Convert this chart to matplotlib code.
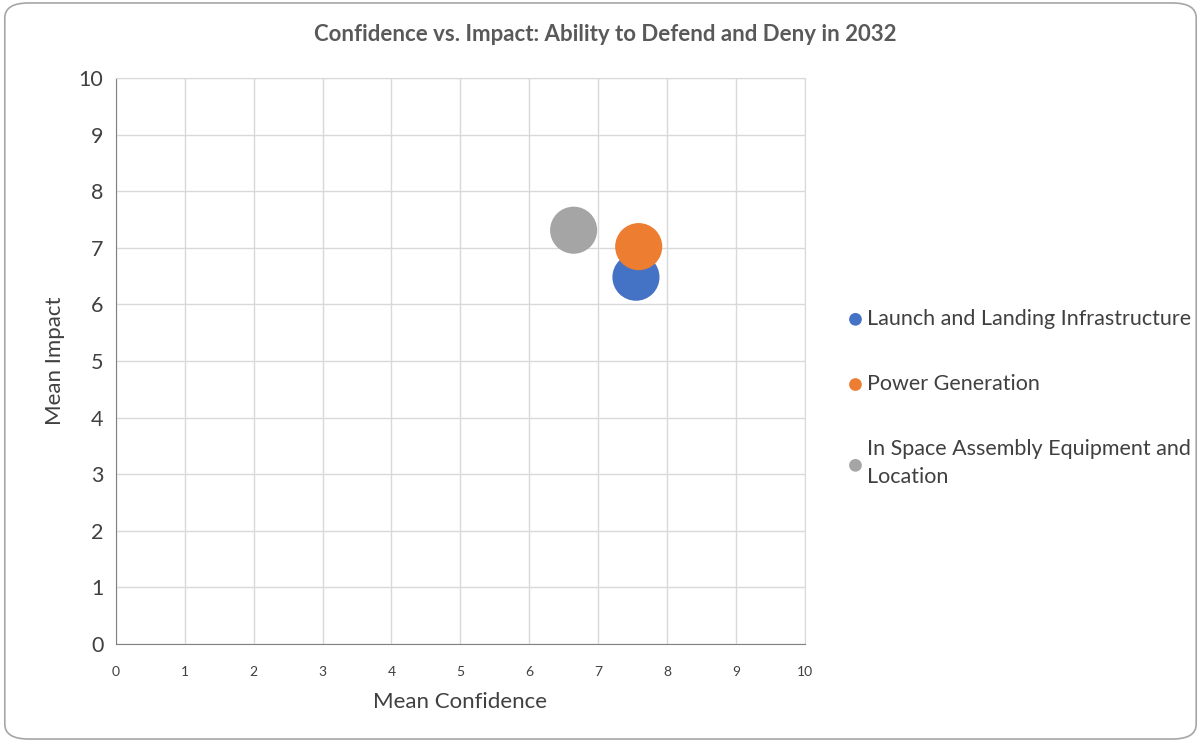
import matplotlib.pyplot as plt
from matplotlib.patches import FancyBboxPatch

labels = ['Launch and Landing Infrastructure', 'Power Generation',
          'In Space Assembly Equipment and\nLocation']
confidence = [7.55, 7.59, 6.645]
impact = [6.48, 7.02, 7.31]
colors = ['#4472c4', '#ed7d31', '#a5a5a5']

plt.rcParams['font.family'] = ['Lato', 'DejaVu Sans']

fig = plt.figure(figsize=(12.01, 7.42), dpi=100)
ax = fig.add_axes([0.0966, 0.132, 0.5734, 0.763])

# rounded frame round the whole chart
frame = FancyBboxPatch((0.004, 0.004), 0.992, 0.992, boxstyle='round,pad=0,rounding_size=0.02',
                       transform=fig.transFigure, fill=False, edgecolor='#a6a6a6', linewidth=1.2)
fig.patches.append(frame)

for x, y, c, l in zip(confidence, impact, colors, labels):
    ax.scatter(x, y, s=1150, color=c, label=l, zorder=3, edgecolors='none')

ax.set_xlim(0, 10)
ax.set_ylim(0, 10)
ax.set_xticks(range(11))
ax.set_yticks(range(11))
ax.grid(color='#d9d9d9', linewidth=1)
ax.set_axisbelow(True)
for s in ['top', 'right']:
    ax.spines[s].set_color('#d9d9d9')
for s in ['left', 'bottom']:
    ax.spines[s].set_color('#808080')
ax.tick_params(length=0, colors='#404040')
ax.tick_params(axis='y', labelsize=15.5, pad=9)
ax.tick_params(axis='x', labelsize=10, pad=16)
ax.set_xlabel('Mean Confidence', fontsize=16, color='#404040', labelpad=10)
ax.set_ylabel('Mean Impact', fontsize=16, color='#404040', labelpad=10)

fig.text(0.504, 0.953, 'Confidence vs. Impact: Ability to Defend and Deny in 2032',
         ha='center', va='center', fontsize=16, fontweight='bold', color='#595959')

leg = ax.legend(loc='center left', bbox_to_anchor=(1.03, 0.435), frameon=False,
                fontsize=15.5, markerscale=0.27, handletextpad=0.05, labelspacing=2.1,
                handlelength=1.0)
for t in leg.get_texts():
    t.set_color('#404040')
    t.set_linespacing(1.45)

fig.savefig('out.png', dpi=100)
